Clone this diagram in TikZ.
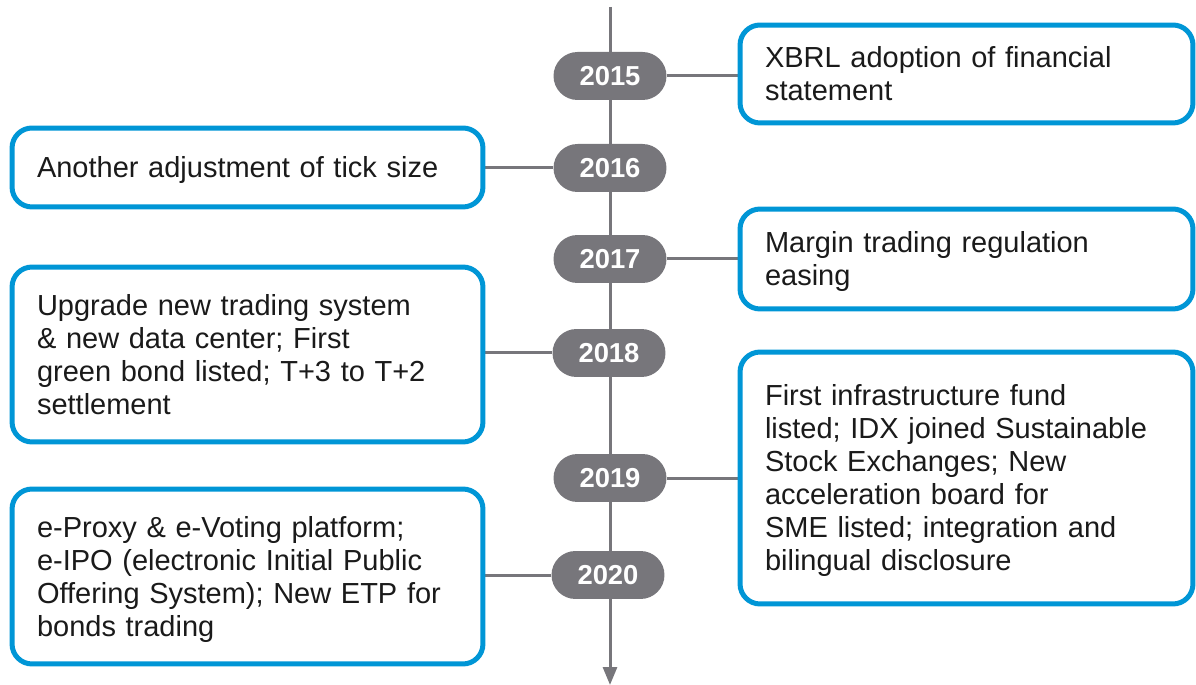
\documentclass[tikz,border=0pt]{standalone}
\usepackage{fontspec}
\setmainfont{Liberation Sans}
\usetikzlibrary{arrows.meta,backgrounds}
\pgfdeclarelayer{edgelayer}
\pgfdeclarelayer{nodelayer}
\pgfsetlayers{edgelayer,nodelayer,main}
\definecolor{idxblue}{HTML}{0096D6}
\definecolor{idxgray}{HTML}{77767B}
\definecolor{idxtext}{HTML}{1A1A1A}
\tikzset{font=\fontsize{16.5}{18.8}\selectfont}
\tikzstyle{year}=[rectangle,rounded corners=0.48cm,fill=idxgray,text=white,minimum width=2.26cm,minimum height=0.96cm,inner sep=0pt,text height=11.2pt,text depth=0pt,font=\fontsize{15.6}{16}\selectfont\bfseries]
\tikzstyle{eventR}=[rectangle,rounded corners=0.4cm,draw=idxblue,line width=0.1cm,fill=white,text=idxtext,minimum width=9.06cm,text width=8.06cm,inner xsep=0.5cm,inner ysep=0pt,text height=11.8pt,text depth=0pt,align=left]
\tikzstyle{eventL}=[eventR,minimum width=9.42cm,text width=8.42cm]
\tikzstyle{link}=[draw=idxgray,line width=0.06cm]

\begin{document}
\begin{tikzpicture}[x=0.02cm,y=-0.02cm]
	\useasboundingbox (0,0) rectangle (1196,685);
	\begin{pgfonlayer}{nodelayer}
		\node [style=year] (y2015) at (610, 76) {2015};
		\node [style=year] (y2016) at (610, 168) {2016};
		\node [style=year] (y2017) at (610, 259) {2017};
		\node [style=year] (y2018) at (609, 353) {2018};
		\node [style=year] (y2019) at (610, 478) {2019};
		\node [style=year] (y2020) at (608, 575) {2020};
		\node [style=eventR, minimum height=1.96cm, text depth=18.8pt] (b2015) at (966.5, 74) {XBRL adoption of financial\\statement};
		\node [style=eventL, minimum height=1.58cm] (b2016) at (247.5, 167.5) {Another adjustment of tick size};
		\node [style=eventR, minimum height=2cm, text depth=18.8pt] (b2017) at (966.5, 259) {Margin trading regulation\\easing};
		\node [style=eventL, minimum height=3.5cm, text depth=56.4pt] (b2018) at (247.5, 354.5) {Upgrade new trading system\\\& new data center; First\\green bond listed; T+3 to T+2\\settlement};
		\node [style=eventR, minimum height=5.04cm, text depth=94pt] (b2019) at (966.5, 478) {First infrastructure fund\\listed; IDX joined Sustainable\\Stock Exchanges; New\\acceleration board for\\SME listed; integration and\\bilingual disclosure};
		\node [style=eventL, minimum height=3.5cm, text depth=56.4pt] (b2020) at (247.5, 576.5) {e-Proxy \& e-Voting platform;\\e-IPO (electronic Initial Public\\Offering System); New ETP for\\bonds trading};
		\coordinate (top) at (610, 7);
		\coordinate (bottom) at (610, 685);
	\end{pgfonlayer}
	\begin{pgfonlayer}{edgelayer}
		\draw [style=link, -{Triangle[length=0.36cm,width=0.28cm]}] (top) to (bottom);
		\draw [style=link] (y2015) to (y2015 -| b2015.west);
		\draw [style=link] (y2016) to (y2016 -| b2016.east);
		\draw [style=link] (y2017) to (y2017 -| b2017.west);
		\draw [style=link] (y2018) to (y2018 -| b2018.east);
		\draw [style=link] (y2019) to (y2019 -| b2019.west);
		\draw [style=link] (y2020) to (y2020 -| b2020.east);
	\end{pgfonlayer}
\end{tikzpicture}
\end{document}
